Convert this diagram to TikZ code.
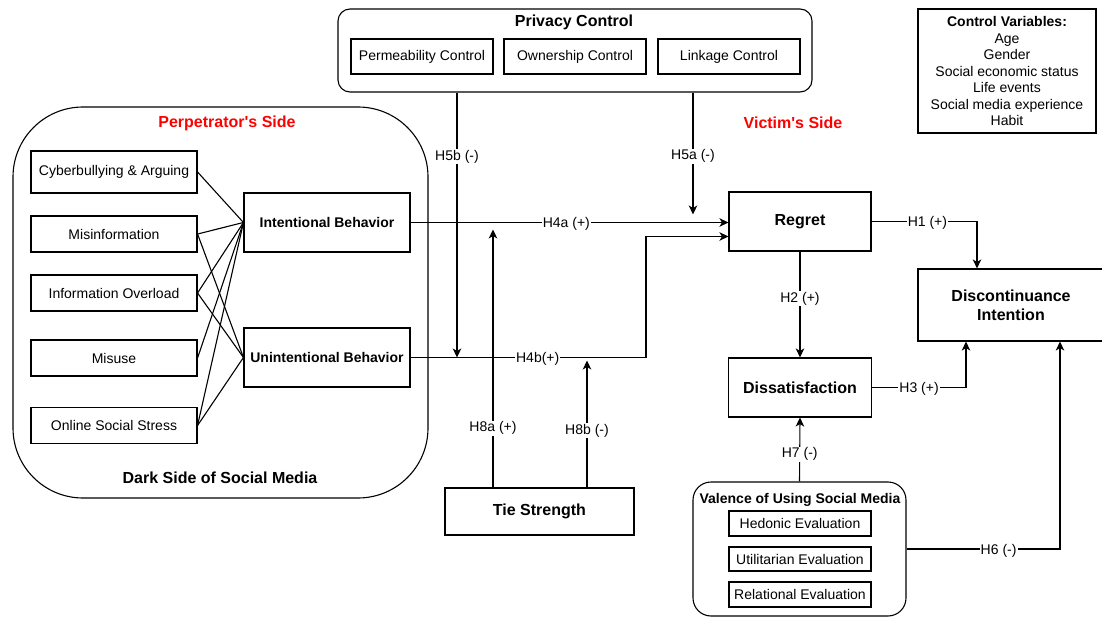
\documentclass[tikz,border=0pt]{standalone}
\usepackage{fontspec}
\setmainfont{Liberation Sans}
\usetikzlibrary{arrows.meta,calc}

\begin{document}
\begin{tikzpicture}[x=1pt,y=-1pt,
  every node/.style={font=\fontsize{14pt}{16.5pt}\selectfont},
  box/.style={draw, line width=1.1pt, inner sep=2pt, align=center},
  bigtitle/.style={font=\fontsize{16pt}{19pt}\selectfont\bfseries},
  midtitle/.style={font=\fontsize{14pt}{16.5pt}\selectfont\bfseries},
  sidetitle/.style={bigtitle, text=red},
  leftbox/.style={box, minimum width=166pt, minimum height=36pt},
  subbox/.style={box, minimum width=142pt, minimum height=35pt},
  evalbox/.style={box, minimum width=142pt, minimum height=25pt},
  lbl/.style={fill=white, inner sep=1pt, yshift=-1.5pt},
  conn/.style={line width=1.1pt},
  arr/.style={conn, -{Stealth[length=9pt, width=8.5pt, inset=2.5pt]}}]

\useasboundingbox (0,0) rectangle (1102,617);

% ---------- Dark side of social media (perpetrator's side) ----------
\node[box, rounded corners=70pt, minimum width=415pt, minimum height=391pt] (dark) at (220.5,302.5) {};
\node[sidetitle] (perp) at (227,123) {Perpetrator\textquotesingle s Side};
\node[bigtitle] (darkt) at (220,478) {Dark Side of Social Media};

\node[leftbox, minimum height=42pt] (cyb) at (114,172) {Cyberbullying \& Arguing};
\node[leftbox] (mis) at (114,234) {Misinformation};
\node[leftbox] (ovl) at (114,293) {Information Overload};
\node[leftbox] (use) at (114,358) {Misuse};
\node[leftbox] (oss) at (114,425.5) {Online Social Stress};

\node[box, midtitle, minimum width=166pt, minimum height=59pt] (ib) at (327,222.5) {Intentional Behavior};
\node[box, midtitle, minimum width=166pt, minimum height=59pt] (ub) at (327,357.5) {Unintentional Behavior};

\draw[conn] (cyb.east) -- (ib.west);
\draw[conn] (mis.east) -- (ib.west);
\draw[conn] (mis.east) -- (ub.west);
\draw[conn] (ovl.east) -- (ib.west);
\draw[conn] (ovl.east) -- (ub.west);
\draw[conn] (use.east) -- (ib.west);
\draw[conn] (oss.east) -- (ib.west);
\draw[conn] (oss.east) -- (ub.west);

% ---------- Privacy control ----------
\node[box, rounded corners=12pt, minimum width=474pt, minimum height=83pt] (pc) at (575,50.5) {};
\node[bigtitle] (pct) at (574,22) {Privacy Control};
\node[subbox] (perm) at (422,56.5) {Permeability Control};
\node[subbox] (own) at (575,56.5) {Ownership Control};
\node[subbox] (link) at (729,56.5) {Linkage Control};

% ---------- Victim's side ----------
\node[sidetitle] (victim) at (793,123) {Victim\textquotesingle s Side};
\node[box, bigtitle, minimum width=142pt, minimum height=59pt] (rg) at (800,221.5) {Regret};
\node[box, bigtitle, minimum width=143pt, minimum height=59pt] (ds) at (800,387.5) {Dissatisfaction};
\node[box, bigtitle, minimum width=186pt, minimum height=72pt] (di) at (1011,305) {Discontinuance\\Intention};

% ---------- Tie strength ----------
\node[box, bigtitle, minimum width=189pt, minimum height=47pt] (ts) at (539.5,511.5) {Tie Strength};

% ---------- Valence of using social media ----------
\node[box, rounded corners=18pt, minimum width=213pt, minimum height=134pt] (vb) at (799.5,549) {};
\node[midtitle] (vbt) at (800,500) {Valence of Using Social Media};
\node[evalbox] (hed) at (800,523.5) {Hedonic Evaluation};
\node[evalbox, minimum height=24pt] (uti) at (800,559) {Utilitarian Evaluation};
\node[evalbox] (rel) at (800,594.5) {Relational Evaluation};

% ---------- Control variables ----------
\node[box, minimum width=178pt, minimum height=124pt] (cv) at (1007,71)
  {\textbf{Control Variables:}\\Age\\Gender\\Social economic status\\Life events\\Social media experience\\Habit};

% ---------- connector columns ----------
\coordinate (xa) at (457,0);
\coordinate (xb) at (693,0);
\coordinate (xc) at (493,0);
\coordinate (xd) at (587,0);
\coordinate (xe) at (646,0);
\coordinate (xf) at (977,0);
\coordinate (xg) at (966,0);
\coordinate (xh) at (1060,0);

% ---------- hypotheses ----------
\draw[arr] (pc.south -| xa) -- node[lbl, pos=0.237] {H5b (-)} (xa |- ub.east);
\draw[arr] (pc.south -| xb) -- node[lbl, pos=0.51] {H5a (-)} ($(xb |- rg.west)+(0,-7)$);
\draw[arr] (ib.east) -- node[lbl, pos=0.49] {H4a (+)} (ib.east -| rg.west);
\draw[arr] (ub.east) -- node[lbl, pos=0.54] {H4b(+)} (ub.east -| xe) |- ($(rg.west)+(0,15)$);
\draw[arr] (ts.north -| xc) -- node[lbl, pos=0.235] {H8a (+)} ($(xc |- ib.east)+(0,7)$);
\draw[arr] (ts.north -| xd) -- node[lbl, pos=0.46] {H8b (-)} ($(xd |- ub.east)+(0,3)$);
\draw[arr] (rg.south) -- node[lbl, pos=0.43] {H2 (+)} (ds.north);
\draw[arr] (rg.east) -- node[lbl, pos=0.53] {H1 (+)} (rg.east -| xf) -- (xf |- di.north);
\draw[arr] (ds.east) -- node[lbl, pos=0.5] {H3 (+)} (ds.east -| xg) -- (xg |- di.south);
\draw[arr] (vb.east) -- node[lbl, pos=0.6] {H6 (-)} (vb.east -| xh) -- (xh |- di.south);
\draw[arr] (vb.north) -- node[lbl, pos=0.45] {H7 (-)} (ds.south);

\end{tikzpicture}
\end{document}
